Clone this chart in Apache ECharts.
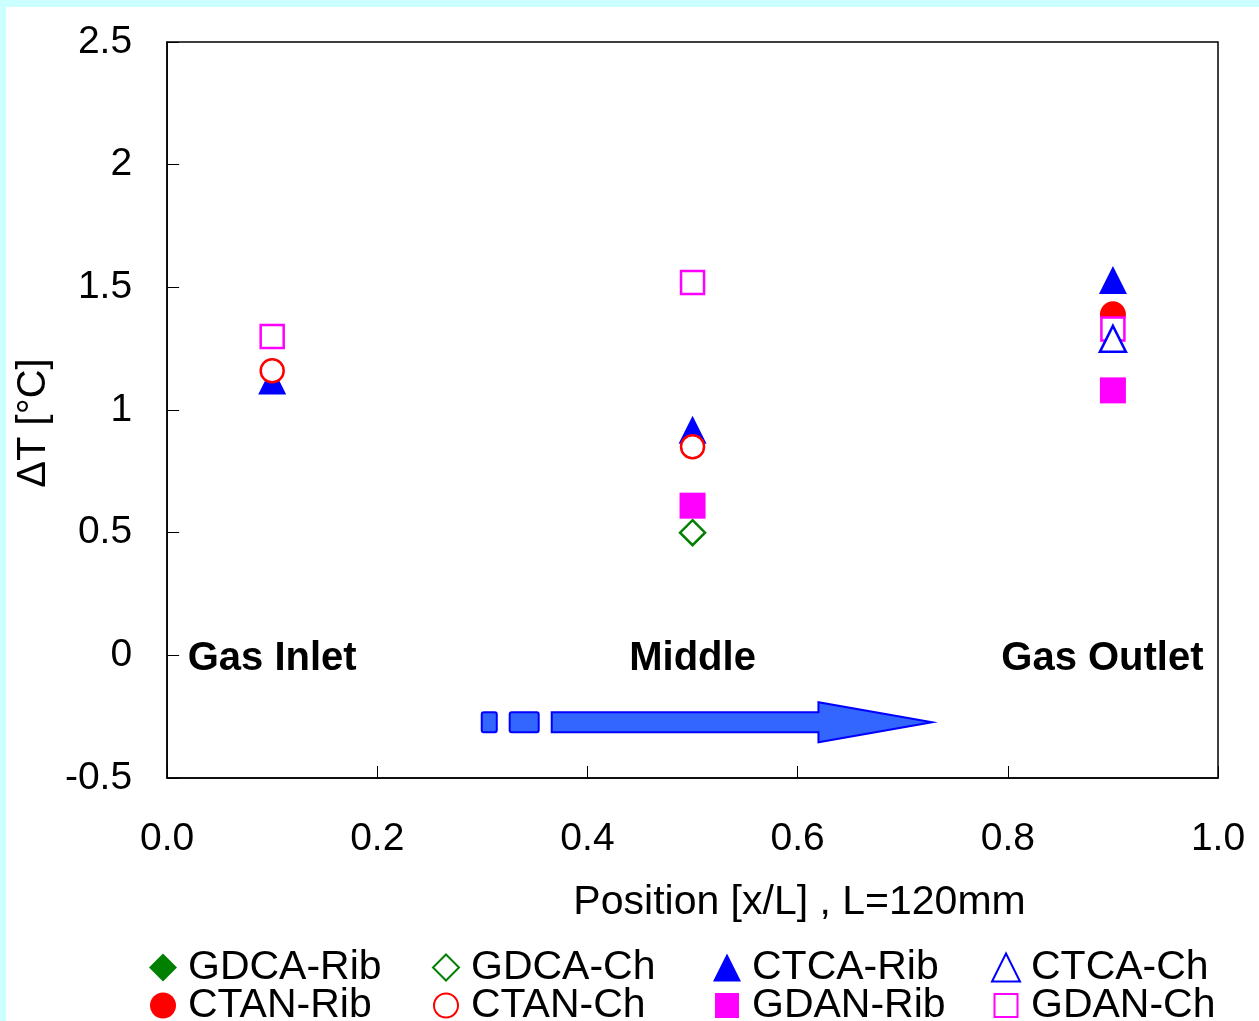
<!DOCTYPE html>
<html>
<head>
<meta charset="utf-8">
<script src="https://cdn.jsdelivr.net/npm/echarts@6/dist/echarts.min.js"></script>
<style>
  html, body { margin: 0; padding: 0; background: #ccffff; }
  #chart { position: absolute; left: 6px; top: 7px; width: 1253px; height: 1014px; background: #fff; }
</style>
</head>
<body>
<div id="chart"></div>
<script>
// positions along the cell (x/L)
const positions = [0.1, 0.5, 0.9]
const positionNames = ['Gas Inlet', 'Middle', 'Gas Outlet']
const labelX = [0.1, 0.5, 0.89]

// ΔT values per series, null = no point
const gdcaRib = [null, null, null]
const gdcaCh = [null, 0.50, null]
const ctcaRib = [1.12, 0.92, 1.53]
const ctanRib = [null, null, 1.39]
const ctanCh = [1.16, 0.85, null]
const gdanRib = [null, 0.61, 1.08]
const gdanCh = [1.30, 1.52, 1.33]
const ctcaCh = [null, null, 1.29]

const yTicks = [-0.5, 0, 0.5, 1, 1.5, 2, 2.5]

// legend grid: [name, column, row, icon w, icon h]
const legendItems = [
  ['GDCA-Rib', 0, 0, 28, 28], ['GDCA-Ch', 1, 0, 26, 26], ['CTCA-Rib', 2, 0, 28, 28], ['CTCA-Ch', 3, 0, 28, 28],
  ['CTAN-Rib', 0, 1, 26, 26], ['CTAN-Ch', 1, 1, 24, 24], ['GDAN-Rib', 2, 1, 24, 25], ['GDAN-Ch', 3, 1, 23, 23]
]
const legendIconX = [157, 439, 721, 999]
const legendTextX = [182, 464, 746, 1024]
const legendRows = [940, 978]

const font = "'Liberation Sans', Arial, sans-serif"
const chart = echarts.init(document.getElementById('chart'))

const toPoints = vals => vals
  .map((v, i) => (v == null ? null : [positions[i], v]))
  .filter(p => p)

const makeSeries = (name, vals, symbol, size, color, filled) => ({
  name,
  type: 'scatter',
  data: toPoints(vals),
  symbol,
  symbolSize: size,
  itemStyle: filled
    ? { color, opacity: 1 }
    : { color: '#fff', borderColor: color, borderWidth: 2.5, opacity: 1 }
})

const option = {
  animation: false,
  grid: {
    left: 160,
    top: 35,
    right: 41,
    bottom: 243,
    show: true,
    borderColor: '#000',
    borderWidth: 1.5
  },
  xAxis: {
    type: 'value',
    min: 0,
    max: 1,
    interval: 0.2,
    name: 'Position [x/L] , L=120mm',
    nameLocation: 'middle',
    nameGap: 104,
    nameTextStyle: { fontSize: 41, color: '#000', fontFamily: font, padding: [0, 0, 0, 214] },
    axisLine: { onZero: false, lineStyle: { color: '#000', width: 1.5 } },
    axisTick: { inside: true, length: 12, lineStyle: { color: '#000' } },
    axisLabel: {
      fontSize: 39, color: '#000', fontFamily: font, margin: 42,
      formatter: v => v.toFixed(1)
    },
    splitLine: { show: false }
  },
  yAxis: {
    type: 'value',
    min: yTicks[0],
    max: yTicks[yTicks.length - 1],
    interval: 0.5,
    name: 'ΔT [°C]',
    nameLocation: 'middle',
    nameGap: 108,
    nameTextStyle: { fontSize: 40, color: '#000', fontFamily: font, padding: [0, 26, 0, 0] },
    axisLine: { onZero: false, lineStyle: { color: '#000', width: 1.5 } },
    axisTick: { inside: true, length: 12, lineStyle: { color: '#000' } },
    axisLabel: { fontSize: 39, color: '#000', fontFamily: font, margin: 35 },
    splitLine: { show: false }
  },
  legend: legendItems.map(([name, col, row, w, h]) => ({
    left: legendIconX[col] - w / 2,
    top: legendRows[row],
    padding: 0,
    itemWidth: w,
    itemHeight: h,
    data: [name],
    textStyle: {
      fontSize: 41, lineHeight: 38, color: '#000', fontFamily: font,
      padding: [0, 0, 0, legendTextX[col] - (legendIconX[col] + w / 2) - 5]
    }
  })),
  series: [
    makeSeries('GDCA-Rib', gdcaRib, 'diamond', [26, 28], '#008000', true),
    makeSeries('GDCA-Ch', gdcaCh, 'diamond', [25, 25], '#008000', false),
    makeSeries('CTCA-Rib', ctcaRib, 'triangle', [28, 28], '#0000ff', true),
    makeSeries('CTAN-Rib', ctanRib, 'circle', 26, '#ff0000', true),
    makeSeries('CTAN-Ch', ctanCh, 'circle', 23, '#ff0000', false),
    makeSeries('GDAN-Rib', gdanRib, 'rect', 26, '#ff00ff', true),
    makeSeries('GDAN-Ch', gdanCh, 'rect', 23, '#ff00ff', false),
    makeSeries('CTCA-Ch', ctcaCh, 'triangle', [26, 26], '#0000ff', false),
    {
      name: 'labels',
      type: 'scatter',
      data: labelX.map(p => [p, 0]),
      symbolSize: 0,
      silent: true,
      itemStyle: { opacity: 1 },
      label: {
        show: true,
        position: 'inside',
        offset: [0, 4],
        formatter: p => positionNames[p.dataIndex],
        fontSize: 40,
        fontWeight: 'bold',
        color: '#000',
        opacity: 1,
        textBorderWidth: 0,
        fontFamily: font
      }
    }
  ]
}

chart.setOption(option)

// flow arrow under the labels, defined in data units
const arrow = { y: -0.273, body: 0.041, head: 0.0815, dashes: [[0.2994, 0.3137], [0.326, 0.3536]], start: 0.366, neck: 0.6198, tip: 0.728 }
const px = (x, y) => chart.convertToPixel({ gridIndex: 0 }, [x, y])
const arrowStyle = { fill: '#3366ff', stroke: '#0000ff', lineWidth: 2 }

const graphics = arrow.dashes.map(([a, b]) => {
  const p1 = px(a, arrow.y + arrow.body)
  const p2 = px(b, arrow.y - arrow.body)
  return { type: 'rect', shape: { x: p1[0], y: p1[1], width: p2[0] - p1[0], height: p2[1] - p1[1], r: 2 }, style: arrowStyle }
})
graphics.push({
  type: 'polygon',
  shape: {
    points: [
      px(arrow.start, arrow.y + arrow.body),
      px(arrow.neck, arrow.y + arrow.body),
      px(arrow.neck, arrow.y + arrow.head),
      px(arrow.tip, arrow.y),
      px(arrow.neck, arrow.y - arrow.head),
      px(arrow.neck, arrow.y - arrow.body),
      px(arrow.start, arrow.y - arrow.body)
    ]
  },
  style: arrowStyle
})

chart.setOption({ graphic: graphics })
</script>
</body>
</html>
